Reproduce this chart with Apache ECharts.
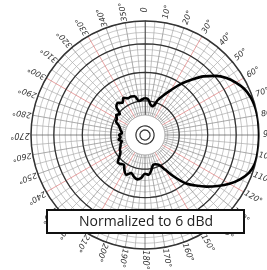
<!DOCTYPE html>
<html>
<head>
<meta charset="utf-8">
<script src="https://cdn.jsdelivr.net/npm/echarts@6/dist/echarts.min.js"></script>
<style>
  html, body { margin: 0; padding: 0; background: #fff; }
  #chart { width: 267px; height: 270px; }
</style>
</head>
<body>
<div id="chart"></div>
<script>
// angles (deg, clockwise from north) and relative level in dB
var angles = [0, 5, 10, 15, 20, 25, 30, 35, 40, 45, 50, 55, 60, 65, 70, 75, 80, 85,
  90, 95, 100, 105, 110, 115, 120, 125, 130, 135, 140, 145, 150, 155, 160, 165, 170, 175,
  180, 185, 190, 195, 200, 205, 210, 215, 220, 225, 230, 235, 240, 245, 250, 255, 260, 265,
  270, 275, 280, 285, 290, 295, 300, 305, 310, 315, 320, 325, 330, 335, 340, 345, 350, 355];
var patternDb = [-27.0, -27.4, -29.1, -29.5, -27.0, -24.6, -21.8, -18.2, -14.7, -10.9, -7.7, -5.1,
  -3.2, -1.6, -0.7, -0.2, 0, 0, 0, 0, 0, -0.2, -1.2, -3.2, -5.8, -8.8, -11.8, -14.9,
  -17.9, -22.1, -26.0, -28.4, -29.1, -29.1, -27.4, -26.0, -26.4, -24.9, -24.2, -24.9, -25.8, -24.6,
  -25.6, -27.2, -26.7, -26.5, -28.3, -29.5, -29.8, -30.5, -30.9, -31.6, -30.6, -31.4,
  -30.9, -31.9, -31.4, -30.9, -30.2, -28.8, -28.6, -27.7, -28.5, -25.8, -25.3, -26.2,
  -24.9, -25.8, -25.6, -25.9, -27.9, -27.5];

// scale rings
var thickRings = [-28, -18, -8];
var innerRings = [-38.2, -36.8];
var blankZone = -33;

// angle tick labels
var labelAngles = [0, 10, 20, 30, 40, 50, 60, 70, 80, 90, 100, 110, 120, 130, 140, 150, 160, 170,
  180, 190, 200, 210, 220, 230, 240, 250, 260, 270, 280, 290, 300, 310, 320, 330, 340, 350];
var labelTexts = ['0', '10°', '20°', '30°', '40°', '50°', '60°', '70°', '80°', '90°', '100°', '110°',
  '120°', '130°', '140°', '150°', '160°', '170°', '180°', '190°', '200°', '210°', '220°', '230°',
  '240°', '250°', '260°', '270°', '280°', '290°', '300°', '310°', '320°', '330°', '340°', '350°'];

var cx = 145, cy = 135, R = 114;

var chart = echarts.init(document.getElementById('chart'));

function ring(v) {   // constant-level circle
  return angles.map(function (a) { return [v, a]; }).concat([[v, 360]]);
}

// radial grid line colours, one per 5 degrees
var spokeColors = [];
for (var a = 0; a <= 360; a += 5) {
  if (a % 90 === 0) spokeColors.push('#555');
  else if (a % 30 === 0) spokeColors.push('#e07a7a');
  else if (a % 10 === 0) spokeColors.push('#888');
  else spokeColors.push('#ababab');
}

var patternData = angles.map(function (a, i) { return [patternDb[i], a]; });
patternData.push([patternDb[0], 360]);

var series = [
  {   // blank centre
    type: 'line', coordinateSystem: 'polar', data: ring(blankZone),
    symbol: 'none', silent: true, z: 3,
    lineStyle: { color: '#888', width: 0.6 },
    areaStyle: { color: '#fff', opacity: 1, origin: 'start' }
  }
];
thickRings.forEach(function (v) {
  series.push({
    type: 'line', coordinateSystem: 'polar', data: ring(v),
    symbol: 'none', silent: true, z: 4,
    lineStyle: { color: '#333', width: 1.3 }
  });
});
innerRings.forEach(function (v) {
  series.push({
    type: 'line', coordinateSystem: 'polar', data: ring(v),
    symbol: 'none', silent: true, z: 4,
    lineStyle: { color: '#333', width: 1.2 }
  });
});
series.push({
  type: 'line', coordinateSystem: 'polar', data: patternData,
  symbol: 'none', smooth: 0.35, silent: true, z: 6,
  lineStyle: { color: '#000', width: 2.6 }
});

var graphics = labelAngles.map(function (a, i) {
  var t = a * Math.PI / 180;
  return {
    type: 'text',
    x: cx + 125 * Math.sin(t),
    y: cy - 125 * Math.cos(t),
    rotation: (90 - a) * Math.PI / 180,
    style: {
      text: labelTexts[i], fill: '#333', font: 'italic 8px "DejaVu Sans"',
      align: 'center', verticalAlign: 'middle',
      textAlign: 'center', textVerticalAlign: 'middle'
    },
    z: 10
  };
});
graphics.push({
  type: 'rect', shape: { x: 47, y: 210, width: 197, height: 23 },
  style: { fill: '#fff', stroke: '#111', lineWidth: 2 }, z: 20
});
graphics.push({
  type: 'text', x: 146, y: 222,
  style: {
    text: 'Normalized to 6 dBd', fill: '#222', font: '14px "Open Sans"',
    align: 'center', verticalAlign: 'middle',
    textAlign: 'center', textVerticalAlign: 'middle'
  },
  z: 21
});

var option = {
  animation: false,
  polar: { center: [cx, cy], radius: R },
  angleAxis: {
    type: 'value', min: 0, max: 360, interval: 5, startAngle: 90, clockwise: true,
    axisLine: { lineStyle: { color: '#333', width: 1.5 } },
    axisTick: { show: false },
    axisLabel: { show: false },
    splitLine: { lineStyle: { color: spokeColors, width: 0.7 } }
  },
  radiusAxis: {
    type: 'value', min: -40, max: 0, interval: 2,
    axisLine: { show: true, lineStyle: { color: '#555', width: 0.8 } },
    axisTick: { show: false },
    axisLabel: { show: false },
    splitLine: { lineStyle: { color: '#a2a2a2', width: 0.6 } }
  },
  series: series,
  graphic: graphics
};
chart.setOption(option);
</script>
</body>
</html>
